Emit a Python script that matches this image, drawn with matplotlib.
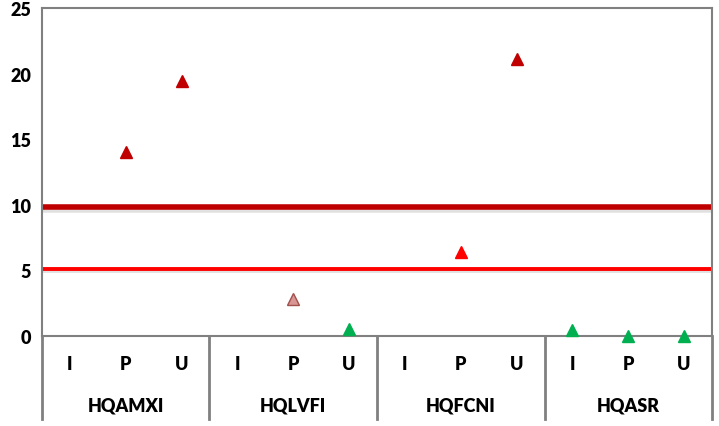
import matplotlib.pyplot as plt
import matplotlib.patheffects as pe

groups = ['HQAMXI', 'HQLVFI', 'HQFCNI', 'HQASR']
subcats = ['I', 'P', 'U']
# one value per (group, subcat); None = no marker
values = [None, 14.0, 19.4,
          None, 2.8, 0.5,
          None, 6.4, 21.1,
          0.45, 0.0, 0.0]
face_colors = [None, '#C00000', '#C00000',
               None, '#D99694', '#00B050',
               None, '#FF0000', '#C00000',
               '#00B050', '#00B050', '#00B050']
edge_colors = [None, '#C00000', '#C00000',
               None, '#A0504D', '#00B050',
               None, '#FF0000', '#C00000',
               '#00B050', '#00B050', '#00B050']
limit_high = 9.8
limit_low = 5.1

plt.rcParams['font.family'] = ['Lato', 'DejaVu Sans']

fig = plt.figure(figsize=(7.19, 4.27), dpi=100)
ax = fig.add_axes([42 / 719, 90 / 427, 670 / 719, 328 / 427])

n = len(groups) * len(subcats)
xs = list(range(n))

shadow = [pe.SimpleLineShadow(offset=(0, -1.5), shadow_color='#aaaaaa', alpha=0.35), pe.Normal()]
ax.axhline(limit_high, color='#C00000', lw=4, zorder=2, path_effects=shadow)
ax.axhline(limit_low, color='#FF0000', lw=2.8, zorder=2, path_effects=shadow)

for x, v, fc, ec in zip(xs, values, face_colors, edge_colors):
    if v is None:
        continue
    ax.plot(x, v, marker='^', ms=9, mfc=fc, mec=ec, mew=1, ls='none',
            zorder=5, clip_on=False)

ax.set_xlim(-0.5, n - 0.5)
ax.set_ylim(0, 25)
ax.set_yticks([0, 5, 10, 15, 20, 25])
ax.tick_params(axis='y', length=0, pad=8, labelsize=13)
for lbl in ax.get_yticklabels():
    lbl.set_fontweight('heavy')
ax.set_xticks([])

for s in ['left', 'right', 'top', 'bottom']:
    ax.spines[s].set_color('#808080')
    ax.spines[s].set_linewidth(1.5)

# category axis: separators and labels below
tr = ax.get_xaxis_transform()
for g in range(len(groups) + 1):
    xb = g * len(subcats) - 0.5
    ax.plot([xb, xb], [0, -0.253], transform=tr, color='#808080', lw=2,
            clip_on=False)
for i, x in enumerate(xs):
    ax.text(x, -0.085, subcats[i % len(subcats)], transform=tr, ha='center',
            va='center', fontsize=13, fontweight='heavy')
for g, name in enumerate(groups):
    xc = g * len(subcats) + 1
    ax.text(xc, -0.21, name, transform=tr, ha='center', va='center',
            fontsize=13, fontweight='heavy')

fig.savefig('out.png', dpi=100)
